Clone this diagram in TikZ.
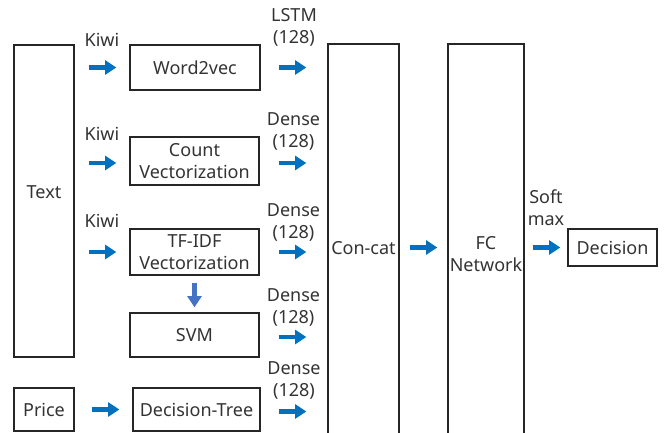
\documentclass[tikz,border=0pt]{standalone}
\usepackage{fontspec}
\setmainfont{Noto Sans}
\usetikzlibrary{arrows.meta}

\definecolor{arrowblue}{RGB}{0,112,192}
\definecolor{downblue}{RGB}{68,114,196}

\tikzset{every picture/.style={line width=0.75pt}}
\tikzset{
  box/.style={draw=black!85, line width=1pt, inner sep=0pt, align=center, text=black!80, font=\fontsize{13.5}{16.5}\selectfont},
  lbl/.style={inner sep=0.75pt, align=center, font=\fontsize{13.5}{16.5}\selectfont, text=black!80},
  flow/.style={draw=arrowblue, line width=3.6pt, -{Triangle[length=8.5pt,width=10.5pt]}},
}

\begin{document}
\begin{tikzpicture}[x=0.75pt,y=0.75pt,yscale=-1,xscale=1]
            \path[use as bounding box, clip] (0,0) rectangle (664,432);

            % Input boxes
            \node[box, minimum width=60*0.75pt, minimum height=312*0.75pt] (text) at (44,201) {};
            \node[lbl] (textlbl) at (44,192) {Text};
            \node[box, minimum width=60*0.75pt, minimum height=43*0.75pt] (price) at (44,409.5) {Price};

            % Feature boxes
            \node[box, minimum width=130*0.75pt, minimum height=45*0.75pt] (w2v) at (195,67.5) {Word2vec};
            \node[box, minimum width=129*0.75pt, minimum height=48*0.75pt] (count) at (194.5,161) {Count\\Vectorization};
            \node[box, minimum width=129*0.75pt, minimum height=46*0.75pt] (tfidf) at (194.5,252) {TF-IDF\\Vectorization};
            \node[box, minimum width=129*0.75pt, minimum height=44*0.75pt] (svm) at (194.5,335) {SVM};
            \node[box, minimum width=127*0.75pt, minimum height=43*0.75pt] (dtree) at (196.5,409.5) {Decision-Tree};

            % Merge and output
            \node[box, minimum width=71*0.75pt, minimum height=408*0.75pt] (concat) at (363.5,248) {Con-cat};
            \node[box, minimum width=76*0.75pt, minimum height=420*0.75pt] (fc) at (486,254) {FC\\Network};
            \node[box, minimum width=89*0.75pt, minimum height=37*0.75pt] (decision) at (612.5,247.5) {Decision};

            % Kiwi arrows
            \draw[flow, shorten <=14*0.75pt, shorten >=13*0.75pt] (text.east |- w2v.west) -- (w2v.west) node[lbl, midway, yshift=21pt] (kiwi1) {Kiwi};
            \draw[flow, shorten <=14*0.75pt, shorten >=13*0.75pt] ([yshift=1.5pt]text.east |- count.west) -- ([yshift=1.5pt]count.west) node[lbl, midway, yshift=22pt] (kiwi2) {Kiwi};
            \draw[flow, shorten <=14*0.75pt, shorten >=13*0.75pt] (text.east |- tfidf.west) -- (tfidf.west) node[lbl, midway, yshift=23pt] (kiwi3) {Kiwi};
            \draw[flow, shorten <=17*0.75pt, shorten >=13*0.75pt] (price.east) -- (dtree.west);

            % TF-IDF to SVM
            \draw[flow, draw=downblue, shorten <=7*0.75pt, shorten >=5*0.75pt] (tfidf.south) -- (svm.north);

            % Layers into concat
            \draw[flow, shorten <=18*0.75pt, shorten >=21*0.75pt] (w2v.east) -- (w2v.east -| concat.west) node[lbl, midway, anchor=south, yshift=13.5pt] (lstm) {LSTM\\(128)};
            \draw[flow, shorten <=19*0.75pt, shorten >=21*0.75pt] ([yshift=1.5pt]count.east) -- ([yshift=1.5pt]count.east -| concat.west) node[lbl, midway, anchor=south, yshift=7pt] (dense1) {Dense\\(128)};
            \draw[flow, shorten <=19*0.75pt, shorten >=21*0.75pt] (tfidf.east) -- (tfidf.east -| concat.west) node[lbl, midway, anchor=south, yshift=5.5pt] (dense2) {Dense\\(128)};
            \draw[flow, shorten <=19*0.75pt, shorten >=21*0.75pt] ([yshift=1.5pt]svm.east) -- ([yshift=1.5pt]svm.east -| concat.west) node[lbl, midway, anchor=south, yshift=5.5pt] (dense3) {Dense\\(128)};
            \draw[flow, shorten <=18*0.75pt, shorten >=21*0.75pt] ([yshift=1.5pt]dtree.east) -- ([yshift=1.5pt]dtree.east -| concat.west) node[lbl, midway, anchor=south, yshift=6.5pt] (dense4) {Dense\\(128)};

            % Concat to FC to decision
            \draw[flow, shorten <=10*0.75pt, shorten >=10*0.75pt] (concat.east |- decision.west) -- (fc.west |- decision.west);
            \draw[flow, shorten <=8*0.75pt, shorten >=7*0.75pt] (fc.east |- decision.west) -- (decision.west) node[lbl, midway, anchor=south, yshift=13.5pt] (softmax) {Soft\\max};

        \end{tikzpicture}
\end{document}
